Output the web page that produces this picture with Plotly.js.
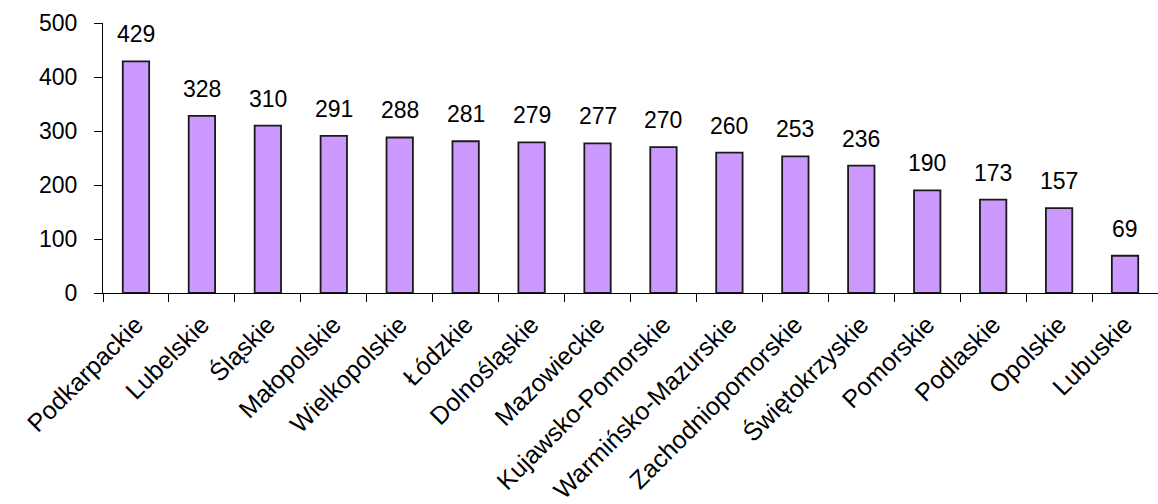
<!DOCTYPE html>
<html>
<head>
<meta charset="utf-8">
<script src="https://cdn.plot.ly/plotly-3.0.1.min.js"></script>
<style>html,body{margin:0;padding:0;background:#fff;}#chart{width:1158px;height:504px;}</style>
</head>
<body>
<div id="chart"></div>
<script>
const categories = ["Podkarpackie","Lubelskie","Śląskie","Małopolskie","Wielkopolskie","Łódzkie","Dolnośląskie","Mazowieckie","Kujawsko-Pomorskie","Warmińsko-Mazurskie","Zachodniopomorskie","Świętokrzyskie","Pomorskie","Podlaskie","Opolskie","Lubuskie"];
const values = [429,328,310,291,288,281,279,277,270,260,253,236,190,173,157,69];
const yTicks = [0,100,200,300,400,500];

const FONT = "Liberation Sans, Arial, sans-serif";

const trace = {
  type: "bar",
  x: categories,
  y: values,
  marker: {color: "#CC99FF", line: {color: "#1a1a1a", width: 1.8}},
  hoverinfo: "none"
};

const annotations = categories.map((c, i) => ({
  x: c, y: values[i], xref: "x", yref: "y",
  text: String(values[i]), showarrow: false,
  yanchor: "bottom", yshift: 12,
  font: {family: FONT, size: 23, color: "#000"}
}));

const layout = {
  width: 1158, height: 504,
  margin: {l: 103, r: 0, t: 23, b: 211, pad: 0},
  paper_bgcolor: "#fff", plot_bgcolor: "#fff",
  showlegend: false,
  bargap: 0.6,
  font: {family: FONT, size: 23, color: "#000"},
  xaxis: {
    type: "category",
    range: [-0.5, 15.5],
    showline: true, linecolor: "#000", linewidth: 1,
    ticks: "outside", ticklen: 8, tickcolor: "#000", tickwidth: 1,
    tickson: "boundaries",
    tickangle: -45,
    ticklabelstandoff: 6,
    showgrid: false, zeroline: false,
    automargin: false,
    tickfont: {family: FONT, size: 25, color: "#000"}
  },
  yaxis: {
    range: [0, 500],
    tickvals: yTicks,
    ticktext: yTicks.map(String),
    showline: true, linecolor: "#000", linewidth: 1,
    ticks: "outside", ticklen: 8, tickcolor: "#000", tickwidth: 1,
    ticklabelstandoff: 12,
    showgrid: false, zeroline: false,
    automargin: false,
    tickfont: {family: FONT, size: 23, color: "#000"}
  },
  annotations: annotations
};

Plotly.newPlot("chart", [trace], layout, {staticPlot: true, displayModeBar: false});
</script>
</body>
</html>
